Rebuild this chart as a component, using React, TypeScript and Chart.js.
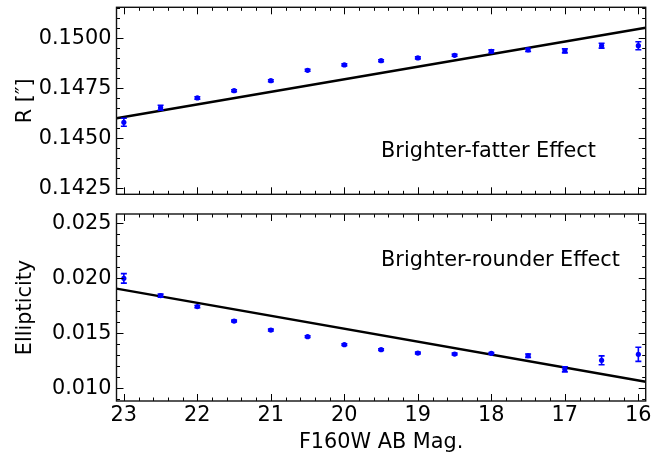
import React, { useEffect, useRef } from "react";
import { Chart, registerables } from "chart.js";
Chart.register(...registerables);

// ---- data ----
const mags = [23, 22.5, 22, 21.5, 21, 20.5, 20, 19.5, 19, 18.5, 18, 17.5, 17, 16.5, 16];
const radius = [0.1458, 0.14653, 0.14702, 0.14738, 0.14788, 0.1484, 0.14867, 0.14888, 0.14902, 0.14915, 0.14935, 0.14942, 0.14937, 0.14963, 0.14963];
const radiusErr = [0.0002, 0.00012, 0.00006, 0.00005, 0.00005, 0.00005, 0.00005, 0.00005, 0.00005, 0.00005, 0.00007, 0.00008, 0.0001, 0.00012, 0.0002];
const ellip = [0.02, 0.01843, 0.01743, 0.01612, 0.0153, 0.0147, 0.01397, 0.01352, 0.01321, 0.01312, 0.01318, 0.01297, 0.01173, 0.01255, 0.01309];
const ellipErr = [0.00043, 0.00014, 0.0001, 0.00008, 0.00008, 0.00008, 0.00008, 0.00008, 0.00008, 0.00008, 0.00008, 0.00015, 0.00023, 0.0004, 0.00064];
const fitMags = [23.1, 15.9];
const radiusFit = [0.146, 0.15053];
const ellipFit = [0.01906, 0.0106];
const magTicks = [23, 22, 21, 20, 19, 18, 17, 16];
const radiusTicks = [0.1425, 0.145, 0.1475, 0.15];
const ellipTicks = [0.01, 0.015, 0.02, 0.025];

const FONT = "'DejaVu Sans', sans-serif";
const FS = 20.8;

const errorBars = {
  id: "errorBars",
  afterDatasetsDraw(chart: any) {
    const { ctx } = chart;
    const xs = chart.scales.x, ys = chart.scales.y;
    ctx.save();
    chart.data.datasets.forEach((ds: any) => {
      if (!ds.yErr) return;
      ctx.strokeStyle = ds.backgroundColor;
      ctx.lineWidth = 1.6;
      ds.data.forEach((p: any, i: number) => {
        const e = ds.yErr[i];
        const px = xs.getPixelForValue(p.x);
        const y1 = ys.getPixelForValue(p.y - e);
        const y2 = ys.getPixelForValue(p.y + e);
        ctx.beginPath();
        ctx.moveTo(px, y1); ctx.lineTo(px, y2);
        ctx.moveTo(px - 3, y1); ctx.lineTo(px + 3, y1);
        ctx.moveTo(px - 3, y2); ctx.lineTo(px + 3, y2);
        ctx.stroke();
      });
    });
    ctx.restore();
  },
};

const frameTicks = {
  id: "frameTicks",
  afterDraw(chart: any, _a: any, opts: any) {
    const { ctx, chartArea } = chart;
    const { left, right, top, bottom } = chartArea;
    const xs = chart.scales.x, ys = chart.scales.y;
    ctx.save();
    ctx.strokeStyle = "#000";
    ctx.lineWidth = 1;
    const seg = (a: number, b: number, c: number, d: number) => {
      ctx.beginPath(); ctx.moveTo(a, b); ctx.lineTo(c, d); ctx.stroke();
    };
    const expand = (vals: number[], n: number) => {
      const out: number[] = [];
      const step = (vals[1] - vals[0]) / n;
      for (let k = -n; k < (vals.length + 1) * n; k++) out.push(vals[0] + k * step);
      return out;
    };
    const xMinor = expand(opts.xTicks, 5);
    const yMinor = expand(opts.yTicks, 5);
    xMinor.forEach((v) => {
      const px = Math.round(xs.getPixelForValue(v)) + 0.5;
      if (px < left + 1 || px > right - 1) return;
      seg(px, bottom, px, bottom - 3.5);
      seg(px, top, px, top + 3.5);
    });
    opts.xTicks.forEach((v: number) => {
      const px = Math.round(xs.getPixelForValue(v)) + 0.5;
      seg(px, bottom, px, bottom - 7);
      seg(px, top, px, top + 7);
    });
    yMinor.forEach((v) => {
      const py = Math.round(ys.getPixelForValue(v)) + 0.5;
      if (py < top + 1 || py > bottom - 1) return;
      seg(left, py, left + 3.5, py);
      seg(right, py, right - 3.5, py);
    });
    opts.yTicks.forEach((v: number) => {
      const py = Math.round(ys.getPixelForValue(v)) + 0.5;
      seg(left, py, left + 7, py);
      seg(right, py, right - 7, py);
    });
    ctx.lineWidth = 1.4;
    ctx.strokeStyle = "#111";
    ctx.strokeRect(left, top, right - left, bottom - top);
    // annotation
    ctx.fillStyle = "#000";
    ctx.font = FS + "px " + FONT;
    ctx.textAlign = "left";
    ctx.textBaseline = "alphabetic";
    ctx.fillText(opts.note, left + opts.noteX * (right - left), bottom - opts.noteY * (bottom - top));
    ctx.restore();
  },
};

const noPad = (s: any) => {
  s.paddingTop = 0; s.paddingBottom = 0; s.paddingLeft = 0; s.paddingRight = 0;
};

function makeConfig(p: any): any {
  return {
    type: "scatter",
    data: {
      datasets: [
        {
          data: p.fitX.map((x: number, i: number) => ({ x, y: p.fitY[i] })),
          showLine: true,
          borderColor: "#000",
          borderWidth: 2.4,
          pointRadius: 0,
          order: 1,
        },
        {
          data: mags.map((x, i) => ({ x, y: p.vals[i] })),
          yErr: p.errs,
          backgroundColor: "#0000ff",
          borderColor: "#0000ff",
          pointRadius: 2.6,
          borderWidth: 0,
          order: 0,
        },
      ],
    },
    options: {
      animation: false,
      responsive: false,
      devicePixelRatio: 1,
      events: [],
      layout: { padding: p.padding },
      plugins: {
        legend: { display: false },
        tooltip: { enabled: false },
        frameTicks: { xTicks: magTicks, yTicks: p.yTicks, note: p.note, noteX: 0.5, noteY: p.noteY },
      },
      scales: {
        x: {
          type: "linear",
          reverse: true,
          min: 15.9,
          max: 23.1,
          display: p.showX,
          afterBuildTicks: (s: any) => { s.ticks = magTicks.map((v) => ({ value: v })); },
          afterFit: (s: any) => { if (p.showX) s.height = 52; noPad(s); },
          grid: { display: false, drawTicks: false },
          border: { display: false },
          ticks: {
            autoSkip: false,
            maxRotation: 0,
            padding: 2.5,
            color: "#000",
            font: { family: FONT, size: FS },
            callback: (v: number) => String(v),
          },
          title: {
            display: p.showX,
            text: "F160W AB Mag.",
            color: "#000",
            font: { family: FONT, size: FS, lineHeight: 1 },
            padding: { top: 0, bottom: -0.5 },
          },
        },
        y: {
          type: "linear",
          min: p.yMin,
          max: p.yMax,
          afterBuildTicks: (s: any) => { s.ticks = p.yTicks.map((v: number) => ({ value: v })); },
          afterFit: (s: any) => { s.width = 116.5; noPad(s); },
          grid: { display: false, drawTicks: false },
          border: { display: false },
          ticks: {
            autoSkip: false,
            padding: 5,
            color: "#000",
            font: { family: FONT, size: FS },
            callback: (v: number) => v.toFixed(p.digits),
          },
          title: {
            display: true,
            text: p.yTitle,
            color: "#000",
            font: { family: FONT, size: FS, lineHeight: 1.2 },
            padding: { top: 13, bottom: 0 },
          },
        },
      },
    },
    plugins: [errorBars, frameTicks],
  };
}

function Panel(props: { cfg: any; width: number; height: number }) {
  const ref = useRef<HTMLCanvasElement | null>(null);
  useEffect(() => {
    const chart = new Chart(ref.current as HTMLCanvasElement, props.cfg);
    return () => chart.destroy();
  }, []);
  return <canvas ref={ref} width={props.width} height={props.height} style={{ display: "block" }} />;
}

export default function App() {
  const top = makeConfig({
    fitX: fitMags, fitY: radiusFit, vals: radius, errs: radiusErr,
    yMin: 0.1422, yMax: 0.15155, yTicks: radiusTicks, digits: 4,
    yTitle: "R [\u2033]", note: "Brighter-fatter Effect", noteY: 0.2,
    showX: false, padding: { left: 0, right: 19.3, top: 7.3, bottom: 5.7 },
  });
  const bottom = makeConfig({
    fitX: fitMags, fitY: ellipFit, vals: ellip, errs: ellipErr,
    yMin: 0.00885, yMax: 0.02585, yTicks: ellipTicks, digits: 3,
    yTitle: "Ellipticity", note: "Brighter-rounder Effect", noteY: 0.72,
    showX: true, padding: { left: 0, right: 19.3, top: 14, bottom: 0 },
  });
  return (
    <div style={{ position: "fixed", left: 0, top: 0, width: 665, height: 453, background: "#fff" }}>
      <Panel cfg={top} width={665} height={200} />
      <Panel cfg={bottom} width={665} height={253} />
    </div>
  );
}
